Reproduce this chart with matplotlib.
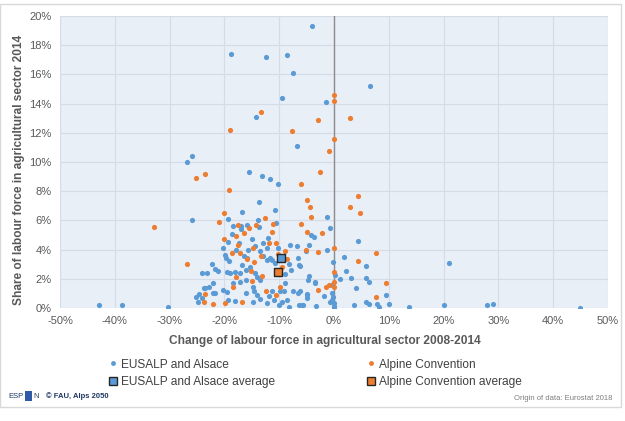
import matplotlib
matplotlib.use("Agg")
import matplotlib.pyplot as plt
from matplotlib.lines import Line2D
from matplotlib.patches import Rectangle

# values in percent (change 2008-2014, share 2014)
eusalp_x = [-4.0, -18.8, -12.5, -8.5, -7.4, 6.5, -9.4, -1.5, -14.2, -6.8, -25.9, -26.8, -15.5, -13.1, -11.6,
            -10.2, -13.6, -10.8, -1.3, -0.7, -4.2, -3.6, 4.4, -4.6, -5.2, -1.3, 1.8, -0.2, 5.9, -6.2,
            2.1, 0.2, -4.5, -4.7, 1.15, 3.1, 5.9, 6.4, -3.5, -0.3, 4.1, -6.2, -4.9, -1.8, 9.4,
            -0.4, -0.1, -0.3, -0.7, 0.05, 0.0, 0.0, 5.9, 6.3, 7.8, 8.3, 10.0, 13.6, 3.65, -3.2,
            -5.9, -4.9, 21.0, 20.0, 28.0, 29.0, 44.9, -26.0, -42.8, -38.6, -30.3,
            -16.7, -19.4, -13.9, -10.6, -15.8, -18.4, -16.9, -13.7, -17.0, -12.0, -18.6, -15.0, -17.3, -19.3,
            -12.9, -10.3, -14.5, -15.7, -6.8, -20.2, -19.8, -17.8, -16.5, -13.5, -12.9, -12.3, -10.7, -11.4,
            -8.3, -6.6, -6.4, -7.9, -8.9, -10.0, -22.3, -23.2, -21.7, -21.1, -19.6, -19.0, -18.0, -17.2,
            -16.1, -15.3, -14.4, -14.0, -13.5, -16.1, -17.2, -22.0, -18.4, -23.5, -20.2, -19.6, -22.1, -21.7,
            -24.6, -25.1, -24.1, -24.9, -19.3, -18.1, -14.7, -16.1, -14.6, -14.1, -11.4, -13.5, -11.8, -10.9,
            -12.3, -10.1, -9.4, -8.5, -8.3, -9.1, -9.9, -8.9, -7.5, -6.5, -6.4, -5.7, -5.0, -3.4,
            -19.7, -19.1, -16.7, -15.9, -12.3, -11.6, -8.0, -22.9, -23.7, -14.7, -24.0]
eusalp_y = [19.3, 17.4, 17.2, 17.3, 16.1, 15.2, 14.4, 14.1, 13.1, 11.1, 10.4, 10.0, 9.3, 9.06, 8.84,
            8.47, 7.26, 6.7, 6.2, 5.5, 5.0, 4.84, 4.6, 4.3, 3.9, 4.0, 3.5, 3.15, 2.9, 2.9,
            2.56, 2.26, 2.2, 1.94, 1.96, 2.08, 2.05, 1.78, 1.73, 1.55, 1.37, 1.16, 0.94, 0.85, 0.91,
            1.05, 0.78, 0.55, 0.43, 0.36, 0.14, 0.03, 0.41, 0.27, 0.27, 0.1, 0.27, 0.1, 0.2, 0.16,
            0.2, 0.7, 3.1, 0.18, 0.18, 0.27, 0.02, 6.05, 0.23, 0.23, 0.09,
            6.55, 6.07, 6.05, 5.85, 5.7, 5.6, 5.6, 5.55, 5.4, 4.77, 5.05, 4.7, 4.43, 4.5,
            4.43, 4.13, 4.25, 4.0, 4.27, 4.09, 3.63, 4.0, 3.56, 3.92, 3.56, 3.29, 3.06, 3.29,
            3.03, 3.4, 2.95, 2.6, 2.33, 2.38, 3.0, 2.38, 2.65, 2.56, 2.49, 2.38, 2.45, 2.38,
            2.6, 2.83, 2.38, 2.15, 1.92, 1.92, 1.8, 1.73, 1.69, 1.39, 1.23, 1.1, 1.05, 1.0,
            0.94, 0.78, 0.66, 0.43, 0.55, 0.48, 0.43, 1.0, 1.14, 0.87, 1.16, 0.64, 0.82, 0.55,
            0.32, 0.2, 0.43, 0.55, 0.09, 1.16, 1.16, 1.69, 1.16, 1.0, 0.2, 0.2, 0.89, 1.8,
            3.4, 3.24, 2.95, 3.4, 4.09, 3.4, 4.3, 1.46, 1.35, 1.46, 2.4]

alpine_x = [0.0, 0.0, -13.3, -3.0, 2.9, -19.0, -7.7, 0.0, -0.9, -25.1, -23.5, -6.1, -19.2, -4.9, -4.3,
            -2.6, 4.4, 3.0, 4.8, -4.2, -6.0, -5.0, -2.2, -5.1, 0.0, -3.0, 7.7, 4.4, 0.0, 9.5,
            0.0, -0.9, -1.5, 0.0, -2.9, 7.7, -32.8, -26.8,
            -20.0, -20.9, -12.6, -11.2, -17.5, -14.2, -15.5, -11.4, -16.5, -17.9, -20.0, -11.9, -10.6, -14.8,
            -8.9, -18.7, -17.2, -15.8, -13.3, -14.6, -10.3, -8.6, -9.4, -17.9, -15.2, -13.1, -15.0, -18.4,
            -23.5, -23.7, -22.1, -19.9, -16.7, -12.4, -10.6, -9.9, -17.6]
alpine_y = [14.6, 14.2, 13.4, 12.9, 13.0, 12.2, 12.1, 11.6, 10.75, 8.9, 9.15, 8.5, 8.06, 7.4, 6.9,
            9.3, 7.7, 6.9, 6.5, 6.23, 5.77, 5.2, 5.16, 4.0, 4.1, 3.84, 3.75, 3.2, 2.5, 1.73,
            1.78, 1.55, 1.42, 1.42, 1.23, 0.78, 5.57, 3.0,
            6.53, 5.9, 6.14, 5.75, 5.7, 5.68, 5.5, 5.2, 5.16, 4.93, 4.7, 4.43, 4.47, 4.09,
            3.92, 3.74, 3.74, 3.33, 3.58, 3.13, 3.68, 3.36, 2.83, 2.15, 2.56, 2.19, 1.85, 1.42,
            0.94, 0.39, 0.27, 0.32, 0.41, 1.14, 0.89, 1.46, 4.3]

eusalp_avg = (-9.6, 3.4)
alpine_avg = (-10.3, 2.47)

x_ticks = [-50, -40, -30, -20, -10, 0, 10, 20, 30, 40, 50]
y_ticks = [0, 2, 4, 6, 8, 10, 12, 14, 16, 18, 20]

BLUE = "#5B9BD5"
ORANGE = "#ED7D31"
GREY = "#595959"

plt.rcParams['font.family'] = ['Liberation Sans', 'DejaVu Sans']

fig = plt.figure(figsize=(6.25, 4.21), dpi=100)
fig.patch.set_facecolor("white")
# light frame round the chart
fig.add_artist(Rectangle((0.0, 1 - 407 / 421), 621 / 625, (407 - 3.5) / 421, transform=fig.transFigure,
                         fill=False, edgecolor="#D9D9D9", lw=1.0))

ax = fig.add_axes([60 / 625, 1 - 308 / 421, 548 / 625, 292 / 421])
ax.set_facecolor("#E9EFF7")
ax.set_xlim(-50, 50)
ax.set_ylim(0, 20)
ax.set_xticks(x_ticks)
ax.set_yticks(y_ticks)
ax.set_xticklabels([f"{v}%" for v in x_ticks])
ax.set_yticklabels([f"{v}%" for v in y_ticks])
ax.tick_params(length=0, labelsize=8, colors=GREY, pad=6)
ax.grid(True, color="#D5DCE6", lw=0.8)
ax.set_axisbelow(True)
for s in ax.spines.values():
    s.set_visible(False)
ax.axvline(0, color="#8C8C8C", lw=1.0, zorder=1.5)

ax.scatter(eusalp_x, eusalp_y, s=14, color=BLUE, linewidths=0, zorder=3)
ax.scatter(alpine_x, alpine_y, s=14, color=ORANGE, linewidths=0, zorder=3)
ax.scatter([eusalp_avg[0]], [eusalp_avg[1]], s=30, marker="s", color=BLUE, edgecolors="#262626", linewidths=1.0, zorder=4)
ax.scatter([alpine_avg[0]], [alpine_avg[1]], s=30, marker="s", color=ORANGE, edgecolors="#262626", linewidths=1.0, zorder=4)

ax.set_xlabel("Change of labour force in agricultural sector 2008-2014", fontsize=8.6, fontweight="bold",
              color=GREY)
ax.set_ylabel("Share of labour force in agricultural sector 2014", fontsize=8.6, fontweight="bold",
              color=GREY)
ax.xaxis.set_label_coords(0.484, -0.093)
ax.yaxis.set_label_coords(-0.064, 0.473)

handles = [
    Line2D([], [], ls="none", marker="o", ms=3.5, color=BLUE, mew=0),
    Line2D([], [], ls="none", marker="s", ms=6, color=BLUE, mec="#262626", mew=1.0),
    Line2D([], [], ls="none", marker="o", ms=3.5, color=ORANGE, mew=0),
    Line2D([], [], ls="none", marker="s", ms=6, color=ORANGE, mec="#262626", mew=1.0),
]
labels = ["EUSALP and Alsace", "EUSALP and Alsace average", "Alpine Convention", "Alpine Convention average"]
fig.legend(handles, labels, ncol=2, loc="center left", bbox_to_anchor=(99 / 625, 1 - 373.5 / 421),
           frameon=False, fontsize=8.6, labelcolor="#404040", handlelength=0.6, handletextpad=0.3,
           columnspacing=7.8, labelspacing=0.5)

# footer
fig.text(8 / 625, 1 - 396 / 421, "ESP", fontsize=5.5, color="#1F3864", va="center")
fig.add_artist(Rectangle((25 / 625, 1 - 401 / 421), 7 / 625, 10 / 421, transform=fig.transFigure,
                         facecolor="#2E5AA8", edgecolor="none"))
fig.text(28.5 / 625, 1 - 396 / 421, "O", fontsize=5.5, color="#2E5AA8", va="center", ha="center")
fig.text(33 / 625, 1 - 396 / 421, "N", fontsize=5.5, color="#1F3864", va="center")
fig.text(46 / 625, 1 - 396 / 421, "© FAU, Alps 2050", fontsize=5.5, fontweight="bold", color="#1F3864", va="center")
fig.text(612 / 625, 1 - 398 / 421, "Origin of data: Eurostat 2018", fontsize=5.5, color="#7F7F7F",
         va="center", ha="right")

fig.savefig("out.png", dpi=100)
